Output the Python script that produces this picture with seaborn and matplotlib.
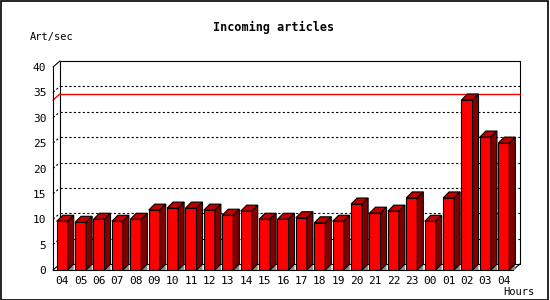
import matplotlib
matplotlib.use("Agg")
import matplotlib.pyplot as plt
import seaborn as sns
import pandas as pd
from matplotlib.patches import Polygon, Rectangle
from matplotlib.lines import Line2D

# ---- data ----
hours = ["04", "05", "06", "07", "08", "09", "10", "11", "12", "13", "14", "15",
         "16", "17", "18", "19", "20", "21", "22", "23", "00", "01", "02", "03", "04"]
rates = [9.6, 9.4, 10.0, 9.6, 10.0, 11.8, 12.2, 12.2, 11.8, 10.8, 11.6, 10.0,
         10.0, 10.3, 9.3, 9.6, 13.0, 11.2, 11.6, 14.2, 9.6, 14.2, 33.5, 26.2, 25.0]
y_ticks = [0, 5, 10, 15, 20, 25, 30, 35, 40]
grid_vals = [5, 10, 15, 20, 25, 30, 35]
title = "Incoming articles"
y_label = "Art/sec"
x_label = "Hours"

df = pd.DataFrame({"slot": list(range(len(rates))), "rate": rates})

sns.set_style("white")
plt.rcParams["font.family"] = ["DejaVu Sans Mono", "DejaVu Sans"]
plt.rcParams["text.color"] = "black"

W, H = 550, 300
fig = plt.figure(figsize=(W / 100, H / 100), dpi=100)
# front plot area in pixels: x 53..513, y 67..270
ax = fig.add_axes([53 / W, 1 - 270 / H, 460 / W, 203 / H])
ax.set_xlim(-0.5, len(rates) - 0.5)
ax.set_ylim(0, 40)
ax.patch.set_alpha(0)

px_x = 460 / len(rates)   # pixels per category
px_y = 203 / 40           # pixels per unit
fdx, fdy = 7 / px_x, 6 / px_y   # frame depth
bdx, bdy = 6 / px_x, 6 / px_y   # bar depth
lw = 0.8
x0, x1 = -0.5, len(rates) - 0.5

# back wall
ax.add_patch(Rectangle((x0 + fdx, fdy), x1 - x0, 40, fill=False, edgecolor="black",
                       lw=lw, clip_on=False, zorder=1))
for (xa, ya) in [(x0, 40), (x0, 0), (x1, 0)]:
    ax.add_line(Line2D([xa, xa + fdx], [ya, ya + fdy], color="black", lw=lw,
                       clip_on=False, zorder=1))
# grid lines on back wall + left wall
for v in grid_vals:
    ax.add_line(Line2D([x0 + fdx, x1 + fdx], [v + fdy, v + fdy], color="black", lw=lw,
                       linestyle=(0, (2, 2)), clip_on=False, zorder=1))
    ax.add_line(Line2D([x0, x0 + fdx], [v, v + fdy], color="black", lw=lw,
                       linestyle=(0, (2, 2)), clip_on=False, zorder=1))
# max line
mx = max(rates)
ax.add_line(Line2D([x0 + fdx, x1 + fdx], [mx + fdy, mx + fdy], color="#ff0000", lw=1.0,
                   clip_on=False, zorder=1.5))
ax.add_line(Line2D([x0, x0 + fdx], [mx, mx + fdy], color="#ff0000", lw=1.0,
                   clip_on=False, zorder=1.5))

# bars (front faces)
sns.barplot(data=df, x="slot", y="rate", ax=ax, color="#ff0000", saturation=1,
            width=0.6, edgecolor="black", linewidth=lw, zorder=3, errorbar=None)
for p in list(ax.patches):
    if not isinstance(p, Rectangle) or p.get_height() <= 0 or p.get_fill() is False:
        continue
    if p.get_facecolor()[0] < 0.9:
        continue
    xa = p.get_x()
    xb = xa + p.get_width()
    v = p.get_height()
    p.set_facecolor("#ff0000")
    ax.add_patch(Polygon([(xb, 0), (xb + bdx, bdy), (xb + bdx, 0)], closed=True,
                         facecolor="#8c8c8c", edgecolor="none", zorder=3, clip_on=False))
    ax.add_patch(Polygon([(xa, v), (xa + bdx, v + bdy), (xb + bdx, v + bdy), (xb, v)],
                         closed=True, facecolor="#c00000", edgecolor="black", lw=lw,
                         zorder=3, clip_on=False))
    ax.add_patch(Polygon([(xb, 0), (xb, v), (xb + bdx, v + bdy), (xb + bdx, bdy)],
                         closed=True, facecolor="#800000", edgecolor="black", lw=lw,
                         zorder=3, clip_on=False))

# axes styling
for s in ["top", "right"]:
    ax.spines[s].set_visible(False)
for s in ["left", "bottom"]:
    ax.spines[s].set_linewidth(lw)
    ax.spines[s].set_color("black")
    ax.spines[s].set_zorder(4)
ax.set_xlabel("")
ax.set_ylabel("")
ax.set_yticks(y_ticks)
ax.set_yticklabels([str(t) for t in y_ticks])
ax.tick_params(axis="y", direction="out", length=3, width=lw, pad=1.8,
               labelsize=8, colors="black")
ax.set_xticks([i - 0.5 for i in range(len(rates) + 1)])
ax.set_xticklabels([])
ax.set_xticks(list(range(len(rates))), minor=True)
ax.set_xticklabels(hours, minor=True)
ax.tick_params(axis="x", which="major", direction="out", length=3, width=lw, colors="black")
ax.tick_params(axis="x", which="minor", length=0, pad=4.3, labelsize=8, colors="black")

# texts
fig.text(273.5 / W, 1 - 27 / H, title, ha="center", va="center", fontsize=8.5,
         fontweight="bold", color="black")
fig.text(30 / W, 1 - 37 / H, y_label, ha="left", va="center", fontsize=7.5, color="black")
fig.text(534 / W, 1 - 292 / H, x_label, ha="right", va="center", fontsize=7.5, color="black")

# outer border
fig.add_artist(Rectangle((0.5 / W, 0.5 / H), 547.5 / W, 298.5 / H, transform=fig.transFigure,
                         fill=False, edgecolor="black", lw=1.2))

fig.savefig("out.png", dpi=100)
